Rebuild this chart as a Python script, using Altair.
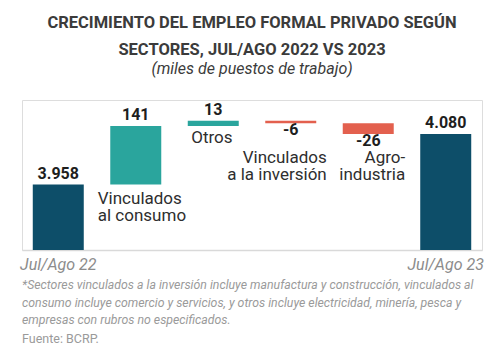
import altair as alt
import pandas as pd

categories = ["Jul/Ago 22", "Vinculados al consumo", "Otros",
              "Vinculados a la inversión", "Agroindustria", "Jul/Ago 23"]
values = [3958, 141, 13, -6, -26, 4080]
kinds = ["total", "pos", "pos", "neg", "neg", "total"]
value_labels = ["3.958", "141", "13", "-6", "-26", "4.080"]

footnote = [
    "*Sectores vinculados a la inversión incluye manufactura y construcción, vinculados al",
    "consumo incluye comercio y servicios, y otros incluye electricidad, minería, pesca y",
    "empresas con rubros no especificados.",
]
source = "Fuente: BCRP."

rows = []
running = 0
for c, v, k, lab in zip(categories, values, kinds, value_labels):
    if k == "total":
        start, end = 0, v
        running = v
    else:
        start, end = running, running + v
        running = end
    rows.append({"cat": c, "value": v, "kind": k, "label": lab,
                 "lo": min(start, end), "hi": max(start, end)})
df = pd.DataFrame(rows)

FONT = "Roboto"
W, H = 460, 150

x = alt.X("cat:N", sort=categories,
          scale=alt.Scale(paddingInner=0.342, paddingOuter=0.139),
          axis=alt.Axis(title=None, ticks=False, domainColor="#d9d9d9", domainWidth=1.5,
                        labelAngle=0, labelFont=FONT, labelFontStyle="italic",
                        labelFontSize=16, labelColor="#8c8c8c", labelPadding=6,
                        labelExpr="(datum.value == 'Jul/Ago 22' || datum.value == 'Jul/Ago 23') ? datum.value : ''"))
yscale = alt.Scale(domain=[3800, 4162], clamp=True, zero=False)

base = alt.Chart(df)

bars = base.mark_bar(cornerRadius=0).encode(
    x=x,
    y=alt.Y("lo:Q", scale=yscale, axis=None),
    y2="hi:Q",
    color=alt.Color("kind:N", legend=None,
                    scale=alt.Scale(domain=["total", "pos", "neg"],
                                    range=["#0d4e69", "#2aa59d", "#e3604e"])),
)

above = base.transform_filter("datum.kind != 'neg'").mark_text(
    font=FONT, fontSize=16, fontWeight="bold", color="#1e1e1e", dy=-6, baseline="alphabetic"
).encode(x=x, y=alt.Y("hi:Q", scale=yscale), text="label:N")

below = base.transform_filter("datum.kind == 'neg'").mark_text(
    font=FONT, fontSize=16, fontWeight="bold", color="#1e1e1e", dy=12, baseline="alphabetic"
).encode(x=x, y=alt.Y("lo:Q", scale=yscale), text="label:N")


def cat_label(cat, lines, align, dx, dy, lh):
    return base.transform_filter(alt.datum.cat == cat).mark_text(
        font=FONT, fontSize=17, color="#2e2e2e", align=align, baseline="alphabetic",
        dx=dx, dy=dy, lineHeight=lh
    ).encode(x=x, y=alt.Y("lo:Q", scale=yscale), text=alt.value(lines))


lab_cons = cat_label("Vinculados al consumo", ["Vinculados", "al consumo"], "left", -38, 19, 17)
lab_otros = cat_label("Otros", ["Otros"], "left", -22, 17, 17)
lab_inv = cat_label("Vinculados a la inversión", ["Vinculados", "a la inversión"], "right", 36, 40, 17)
lab_agro = cat_label("Agroindustria", ["Agro-", "industria"], "right", 37, 29, 17)

foot = alt.Chart(pd.DataFrame({"t": [0]})).mark_text(
    font=FONT, fontSize=12.3, fontStyle="italic", color="#9a9a9a", align="left",
    baseline="alphabetic", lineHeight=17.6
).encode(x=alt.value(0), y=alt.value(189), text=alt.value(footnote))

src = alt.Chart(pd.DataFrame({"t": [0]})).mark_text(
    font=FONT, fontSize=12.5, color="#9a9a9a", align="left", baseline="alphabetic"
).encode(x=alt.value(0), y=alt.value(243), text=alt.value(source))

chart = alt.layer(bars, above, below, lab_cons, lab_otros, lab_inv, lab_agro, foot, src).properties(
    width=W, height=H,
    title=alt.TitleParams(
        text=["CRECIMIENTO DEL EMPLEO FORMAL PRIVADO SEGÚN", "SECTORES, JUL/AGO 2022 VS 2023"],
        subtitle="(miles de puestos de trabajo)",
        font=FONT, fontSize=16.5, fontWeight="bold", color="#3b3b3b", lineHeight=27,
        subtitleFont=FONT, subtitleFontSize=16, subtitleFontStyle="italic",
        subtitleColor="#3b3b3b", subtitlePadding=3, anchor="middle", offset=23,
    ),
    autosize=alt.AutoSizeParams(type="none"),
    padding={"left": 14, "top": 92, "right": 14, "bottom": 97},
).configure_view(stroke=None).configure(background="white")

chart.save("out.html", embed_options={"renderer": "svg", "actions": False})
